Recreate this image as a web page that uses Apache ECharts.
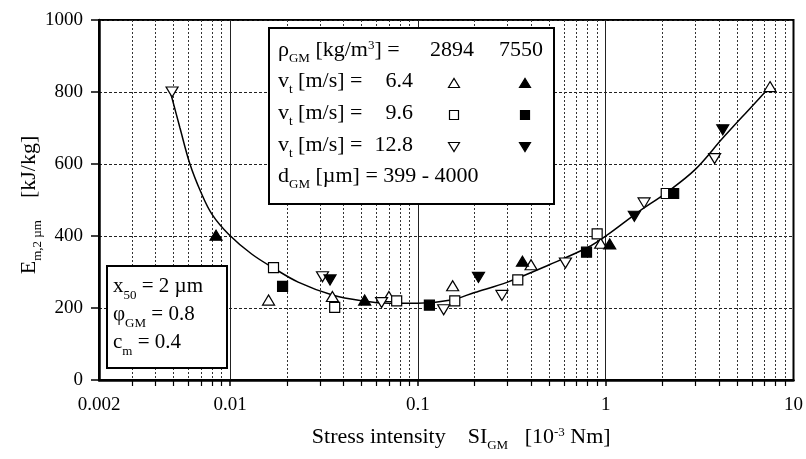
<!DOCTYPE html>
<html><head><meta charset="utf-8">
<script src="https://cdn.jsdelivr.net/npm/echarts@6/dist/echarts.min.js"></script>
<style>html,body{margin:0;padding:0;background:#fff}#c{width:806px;height:459px}</style>
</head><body><div id="c"></div>
<script>
// ---- axis ticks ----
const xTickValues = [0.002, 0.01, 0.1, 1, 10];
const xTickLabels = ['0.002', '0.01', '0.1', '1', '10'];
const xMajorGrid = [0.01, 0.1, 1];
const xMinorTicks = [0.003,0.004,0.005,0.006,0.007,0.008,0.009,
  0.02,0.03,0.04,0.05,0.06,0.07,0.08,0.09,
  0.2,0.3,0.4,0.5,0.6,0.7,0.8,0.9,
  2,3,4,5,6,7,8,9];
const yTickLabels = ['0', '200', '400', '600', '800', '1000'];

// ---- data: rho=2894 (open) / 7550 (filled) ----
// v_t = 6.4 m/s (up triangles)
const openUpX = [0.016, 0.035, 0.070, 0.153, 0.40, 0.94, 7.5];
const openUpY = [222, 232, 232, 262, 320, 380, 815];
const fillUpX = [0.0084, 0.052, 0.36, 1.05];
const fillUpY = [402, 222, 330, 378];
// v_t = 9.6 m/s (squares)
const openSqX = [0.017, 0.036, 0.077, 0.157, 0.34, 0.90, 2.1];
const openSqY = [312, 202, 220, 220, 278, 406, 518];
const fillSqX = [0.019, 0.115, 0.79, 2.3];
const fillSqY = [260, 208, 355, 518];
// v_t = 12.8 m/s (down triangles)
const openDnX = [0.0049, 0.031, 0.064, 0.137, 0.28, 0.61, 1.6, 3.8];
const openDnY = [800, 287, 215, 195, 235, 325, 492, 615];
const fillDnX = [0.034, 0.21, 1.42, 4.2];
const fillDnY = [278, 285, 455, 695];
// fitted curve
const fitX = [0.0048, 0.0054, 0.0061, 0.007, 0.008, 0.0098, 0.013, 0.017, 0.023, 0.035, 0.05, 0.07, 0.1, 0.15, 0.2, 0.3, 0.5, 0.8, 1.0, 1.5, 2.1, 3.0, 4.2, 6.0, 7.5];
const fitY = [800, 700, 600, 520, 460, 405, 350, 311, 272, 236, 220, 213, 213, 222, 243, 272, 320, 368, 400, 468, 520, 585, 672, 760, 815];

const L = Math.log10;
const pts = (xs, ys) => xs.map((x, i) => [L(x), ys[i]]);
const SERIF = '"Liberation Serif", "DejaVu Serif", serif';

function markerSeries(xs, ys, shape, filled, rotate) {
  return {
    type: 'scatter', data: pts(xs, ys), xAxisIndex: 0, yAxisIndex: 0,
    symbol: shape, symbolSize: shape === 'rect' ? [10, 10] : [12, 10],
    symbolRotate: rotate || 0, z: 5,
    itemStyle: { color: filled ? '#000' : '#fff', borderColor: '#000', borderWidth: 1.2, opacity: 1 },
    emphasis: { disabled: true }
  };
}

const rich = (fs) => ({
  m: { fontSize: fs, fontFamily: SERIF, lineHeight: 26, verticalAlign: 'top', fill: '#000', color: '#000' },
  s: { fontSize: Math.round(fs * 0.6), fontFamily: SERIF, lineHeight: 14, verticalAlign: 'bottom', fill: '#000', color: '#000' },
  p: { fontSize: Math.round(fs * 0.6), fontFamily: SERIF, lineHeight: 14, verticalAlign: 'top', fill: '#000', color: '#000' }
});

function txt(x, y, text, fs, align, rot) {
  return { type: 'text', x: x, y: y, z: 11, rotation: rot || 0,
    style: { text: text, rich: rich(fs), font: fs + 'px ' + SERIF, fill: '#000', align: align || 'left', verticalAlign: 'middle' } };
}
function tri(cx, cy, up, filled) {
  const w = 5.5, h = 4.5;
  const p = up ? [[cx - w, cy + h], [cx + w, cy + h], [cx, cy - h]] : [[cx - w, cy - h], [cx + w, cy - h], [cx, cy + h]];
  return { type: 'polygon', z: 11, shape: { points: p }, style: { fill: filled ? '#000' : '#fff', stroke: '#000', lineWidth: 1.2 } };
}
function sq(cx, cy, filled) {
  return { type: 'rect', z: 11, shape: { x: cx - 4.5, y: cy - 4.5, width: 9, height: 9 }, style: { fill: filled ? '#000' : '#fff', stroke: '#000', lineWidth: 1.2 } };
}

const chart = echarts.init(document.getElementById('c'), null, { renderer: 'canvas' });
const xmin = L(xTickValues[0]), xmax = L(xTickValues[xTickValues.length - 1]);

chart.setOption({
  animation: false,
  backgroundColor: '#fff',
  grid: { left: 99, right: 9, top: 20, bottom: 79, show: true, borderColor: '#000', borderWidth: 2, backgroundColor: 'transparent' },
  xAxis: [{
    type: 'value', min: xmin, max: xmax, position: 'bottom',
    name: '{m|Stress intensity    SI}{s|GM}{m|   [10}{p|-3}{m| Nm]}',
    nameLocation: 'middle', nameGap: 46,
    nameTextStyle: { rich: rich(22), fontFamily: SERIF, fontSize: 22, color: '#000', padding: [0, 0, 0, 30] },
    axisLine: { show: true, onZero: false, lineStyle: { color: '#000', width: 2.5 } },
    axisTick: { show: true, length: 6, lineStyle: { color: '#000', width: 1.5 }, customValues: xMajorGrid.map(L) },
    axisLabel: { show: true, margin: 16, fontSize: 19, fontFamily: SERIF, color: '#000',
      customValues: xTickValues.map(L),
      formatter: (v) => { for (let i = 0; i < xTickValues.length; i++) if (Math.abs(L(xTickValues[i]) - v) < 1e-6) return xTickLabels[i]; return ''; } },
    splitLine: { show: true, lineStyle: { color: '#222', width: 1, type: 'solid' } }
  }, {
    type: 'value', min: xmin, max: xmax, position: 'bottom', offset: 0,
    axisLine: { show: false, onZero: false },
    axisTick: { show: true, length: 6, lineStyle: { color: '#000', width: 1.2 }, customValues: xMinorTicks.map(L) },
    axisLabel: { show: false },
    splitLine: { show: true, lineStyle: { color: '#333', width: 1, type: [2, 2] } }
  }],
  yAxis: {
    type: 'value', min: 0, max: 1000, interval: 200, position: 'left',
    axisLine: { show: true, onZero: false, lineStyle: { color: '#000', width: 2.5 } },
    axisTick: { show: true, length: 8, lineStyle: { color: '#000', width: 1.5 } },
    axisLabel: { margin: 16, fontSize: 19, fontFamily: SERIF, color: '#000',
      formatter: (v) => yTickLabels[Math.round(v / 200)] },
    splitLine: { show: true, lineStyle: { color: '#222', width: 1, type: [3, 2] } }
  },
  series: [
    { type: 'line', data: pts(fitX, fitY), smooth: 0.35, showSymbol: false, symbol: 'none', z: 4,
      lineStyle: { color: '#000', width: 1.5 }, emphasis: { disabled: true } },
    markerSeries(openUpX, openUpY, 'triangle', false, 0),
    markerSeries(fillUpX, fillUpY, 'triangle', true, 0),
    markerSeries(openSqX, openSqY, 'rect', false, 0),
    markerSeries(fillSqX, fillSqY, 'rect', true, 0),
    markerSeries(openDnX, openDnY, 'triangle', false, 180),
    markerSeries(fillDnX, fillDnY, 'triangle', true, 180)
  ],
  graphic: [
    txt(31, 205, '{m|E}{s|m,2 µm}{m|    [kJ/kg]}', 22, 'center', Math.PI / 2),
    { type: 'rect', z: 10, shape: { x: 269, y: 28, width: 285, height: 176 }, style: { fill: '#fff', stroke: '#000', lineWidth: 2 } },
    txt(278, 52, '{m|ρ}{s|GM}{m| [kg/m}{p|3}{m|] =}', 22),
    txt(452, 52, '{m|2894}', 22, 'center'),
    txt(521, 52, '{m|7550}', 22, 'center'),
    txt(278, 83, '{m|v}{s|t}{m| [m/s] =}', 22),
    txt(413, 83, '{m|6.4}', 22, 'right'),
    txt(278, 115, '{m|v}{s|t}{m| [m/s] =}', 22),
    txt(413, 115, '{m|9.6}', 22, 'right'),
    txt(278, 147, '{m|v}{s|t}{m| [m/s] = }', 22),
    txt(413, 147, '{m|12.8}', 22, 'right'),
    txt(278, 178, '{m|d}{s|GM}{m| [µm] = 399 - 4000}', 22),
    tri(454, 83, true, false), tri(525, 83, true, true),
    sq(454, 115, false), sq(525, 115, true),
    tri(454, 147, false, false), tri(525, 147, false, true),
    { type: 'rect', z: 10, shape: { x: 107, y: 266, width: 120, height: 102 }, style: { fill: '#fff', stroke: '#000', lineWidth: 2 } },
    txt(113, 289, '{m|x}{s|50}{m| = 2 µm}', 21),
    txt(113, 317, '{m|φ}{s|GM}{m| = 0.8}', 21),
    txt(113, 345, '{m|c}{s|m}{m| = 0.4}', 21)
  ]
});
</script></body></html>
